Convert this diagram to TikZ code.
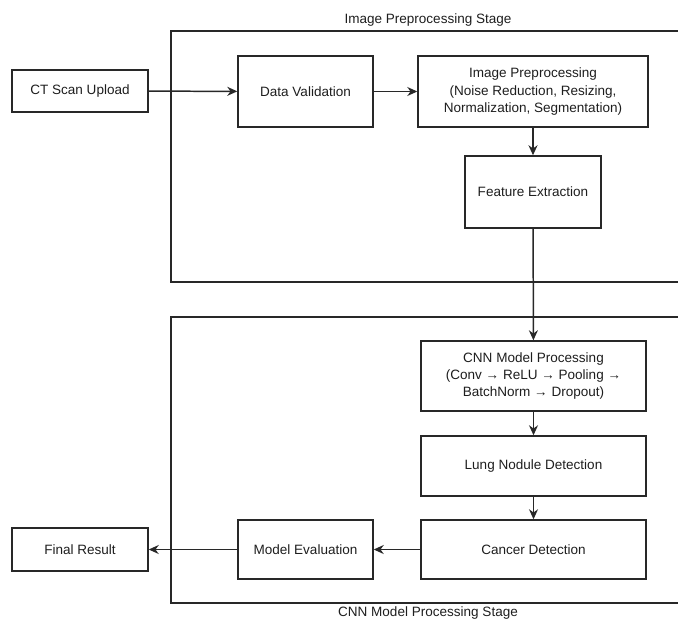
\documentclass[tikz,border=0pt]{standalone}
\usepackage{fontspec}
\setmainfont{Liberation Sans}
\usetikzlibrary{arrows.meta}

\begin{document}
\begin{tikzpicture}[x=0.02cm,y=-0.02cm,>={Stealth[length=0.2cm,width=0.18cm]},
  line width=0.85pt,font=\fontsize{7.7}{9.8}\selectfont]
\definecolor{edge}{RGB}{40,40,40}
\definecolor{ink}{RGB}{30,30,30}
\tikzset{
  stagebox/.style={draw=edge,line width=0.85pt},
  block/.style={draw=edge,fill=white,text=ink,align=center,inner sep=0pt},
  flow/.style={->,draw=edge}
}
\useasboundingbox (0,0) rectangle (678,622);

% Stage frames, both run past the right edge of the picture.
\draw[stagebox] (678,31)--(171,31)--(171,282)--(678,282);
\node[text=ink] (stagetop) at (428,20) {Image Preprocessing Stage};
\draw[stagebox] (678,317)--(171,317)--(171,603)--(678,603);
\node[text=ink] (stagebot) at (428,613) {CNN Model Processing Stage};

% Upper row.
\node[block,minimum width=2.72cm,minimum height=0.84cm] (upload) at (80,91) {CT Scan Upload};
\node[block,minimum width=2.7cm,minimum height=1.42cm] (valid) at (305.5,91.5) {Data Validation};
\node[block,minimum width=4.6cm,minimum height=1.42cm] (prep) at (533,91.5)
  {Image Preprocessing\\(Noise Reduction, Resizing,\\Normalization, Segmentation)};
\node[block,minimum width=2.72cm,minimum height=1.44cm] (feat) at (533,192) {Feature Extraction};

% Lower column and return row.
\node[block,minimum width=4.5cm,minimum height=1.4cm] (cnn) at (533.5,376)
  {CNN Model Processing\\(Conv → ReLU → Pooling →\\BatchNorm → Dropout)};
\node[block,minimum width=4.5cm,minimum height=1.2cm] (nodule) at (533.5,466) {Lung Nodule Detection};
\node[block,minimum width=4.5cm,minimum height=1.18cm] (cancer) at (533.5,549.5) {Cancer Detection};
\node[block,minimum width=2.7cm,minimum height=1.18cm] (evalm) at (305.5,549.5) {Model Evaluation};
\node[block,minimum width=2.72cm,minimum height=0.86cm] (result) at (80,549.5) {Final Result};

\draw[flow] (upload)--(valid);
\draw[flow] (valid)--(prep);
\draw[flow] (prep)--(feat);
\draw[flow] (feat)--(cnn);
\draw[flow] (cnn)--(nodule);
\draw[flow] (nodule)--(cancer);
\draw[flow] (cancer)--(evalm);
\draw[flow] (evalm)--(result);
\end{tikzpicture}
\end{document}
